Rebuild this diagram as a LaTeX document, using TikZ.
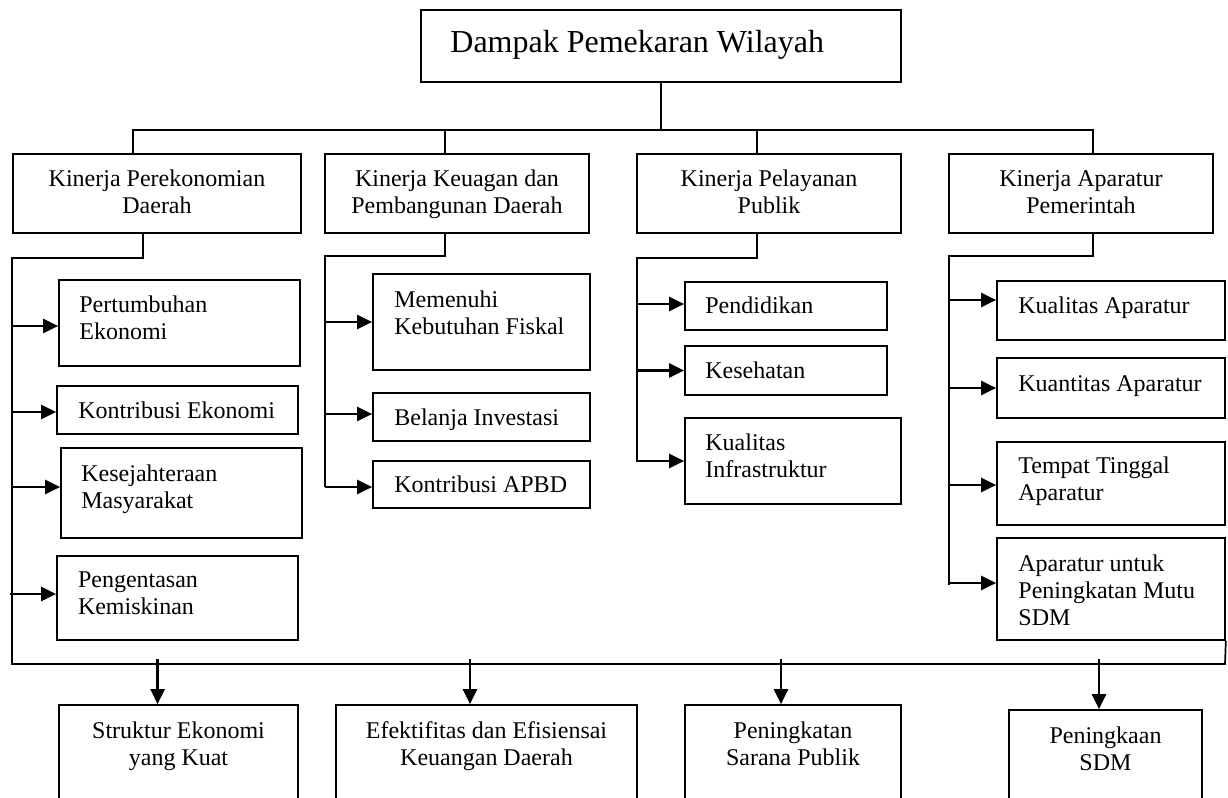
\documentclass[tikz,border=0pt]{standalone}
\usepackage{fontspec}
\setmainfont{Liberation Serif}
\usetikzlibrary{arrows.meta}
% empty box node from corner (x1,y1) to (x2,y2), pixel units
\newcommand\bx[5]{%
 \pgfmathsetmacro\bxw{(#4-#2)*0.5}%
 \pgfmathsetmacro\bxh{(#5-#3)*0.5}%
 \node[boxs, minimum width=\bxw pt, minimum height=\bxh pt] (#1) at ({(#2+#4)/2},{(#3+#5)/2}) {};}
% text whose first baseline is at y = #3 (strut height 18.9 px)
\newcommand\tl[4]{\node[txt, align=left, anchor=north west] (#1) at (#2,{#3-18.9}) {\strut #4};}
\newcommand\tc[4]{\node[txt, align=center, anchor=north] (#1) at (#2,{#3-18.9}) {\strut #4};}
\tikzset{
 boxs/.style={draw, line width=0.85pt, inner sep=0pt},
 txt/.style={inner sep=0pt, font=\fontsize{12}{13.5}\selectfont},
 ttl/.style={inner sep=0pt, anchor=base west, font=\fontsize{16}{18.4}\selectfont},
 ln/.style={line width=0.85pt},
 arr/.style={line width=1.2pt, -{Triangle[length=7.5pt,width=7pt]}}
}
\begin{document}
\begin{tikzpicture}[x=0.5pt,y=-0.5pt]
\useasboundingbox (0,0) rectangle (1228,798);
\clip (0,0) rectangle (1228,798);
% title
\bx{top}{421}{10}{901}{82}
\node[ttl] (topt) at (450,52) {Dampak Pemekaran Wilayah};
% level 1
\bx{k1}{13}{154}{301}{233}
\bx{k2}{325}{154}{589}{233}
\bx{k3}{637}{154}{901}{233}
\bx{k4}{949}{154}{1213}{233}
\tc{k1t}{157}{186.5}{Kinerja Perekonomian\\Daerah}
\tc{k2t}{457}{186.5}{Kinerja Keuagan dan\\Pembangunan Daerah}
\tc{k3t}{769}{186.5}{Kinerja Pelayanan\\Publik}
\tc{k4t}{1081}{186.5}{Kinerja Aparatur\\Pemerintah}
% column 1
\bx{p1}{59}{280}{300}{366}
\bx{p2}{57}{386}{298}{434}
\bx{p3}{61}{448}{302}{538}
\bx{p4}{57}{556}{298}{640}
\tl{p1t}{79}{312}{Pertumbuhan\\Ekonomi}
\tl{p2t}{78}{418}{Kontribusi Ekonomi}
\tl{p3t}{81}{481}{Kesejahteraan\\Masyarakat}
\tl{p4t}{77.6}{587}{Pengentasan\\Kemiskinan}
% column 2
\bx{q1}{373}{274}{590}{370}
\bx{q2}{373}{393}{590}{441}
\bx{q3}{373}{461}{590}{508}
\tl{q1t}{394}{307}{Memenuhi\\Kebutuhan Fiskal}
\tl{q2t}{394}{425}{Belanja Investasi}
\tl{q3t}{394}{492}{Kontribusi APBD}
% column 3
\bx{r1}{685}{282}{887}{330}
\bx{r2}{685}{346}{887}{395}
\bx{r3}{685}{418}{901}{504}
\tl{r1t}{705}{313}{Pendidikan}
\tl{r2t}{705}{378}{Kesehatan}
\tl{r3t}{705}{450}{Kualitas\\Infrastruktur}
% column 4
\bx{s1}{997}{281}{1225}{340}
\bx{s2}{997}{358}{1225}{418}
\bx{s3}{997}{442}{1225}{525}
\bx{s4}{997}{538}{1225}{640}
\tl{s1t}{1018}{313}{Kualitas Aparatur}
\tl{s2t}{1018}{391.5}{Kuantitas Aparatur}
\tl{s3t}{1018}{473}{Tempat Tinggal\\Aparatur}
\tl{s4t}{1018}{571}{Aparatur untuk\\Peningkatan Mutu\\SDM}
% bottom boxes (cut by the page edge)
\bx{b1}{59}{705}{298}{900}
\bx{b2}{336}{705}{637}{900}
\bx{b3}{685}{705}{901}{900}
\bx{b4}{1009}{710}{1202}{900}
\tc{b1t}{178.5}{738}{Struktur Ekonomi\\yang Kuat}
\tc{b2t}{486.5}{738}{Efektifitas dan Efisiensai\\Keuangan Daerah}
\tc{b3t}{793}{738}{Peningkatan\\Sarana Publik}
\tc{b4t}{1105.5}{743}{Peningkaan\\SDM}
% top tree
\coordinate (j0) at (661,130);
\coordinate (ja) at (133,130);
\coordinate (jb) at (445,130);
\coordinate (jc) at (757,130);
\coordinate (jd) at (1093,130);
\draw[ln] (top.south) -- (top.south |- j0);
\draw[ln] (k1.north -| ja) -- (ja) -- (jd) -- (k4.north -| jd);
\draw[ln] (jb) -- (k2.north -| jb);
\draw[ln] (jc) -- (k3.north -| jc);
% column trunks
\coordinate (c1a) at (143,258);
\coordinate (c1b) at (12,258);
\coordinate (bl) at (12,664);
\coordinate (br) at (1225,664);
\draw[ln] (k1.south -| c1a) -- (c1a) -- (c1b) -- (bl) -- (br) -- (s4.south east);
\coordinate (c2a) at (445,256);
\coordinate (c2b) at (325,256);
\coordinate (c2e) at (325,487);
\draw[ln] (k2.south -| c2a) -- (c2a) -- (c2b) -- (c2e);
\coordinate (c3a) at (757,258);
\coordinate (c3b) at (637,258);
\coordinate (c3e) at (637,462);
\draw[ln] (k3.south -| c3a) -- (c3a) -- (c3b) -- (c3e);
\coordinate (c4a) at (1093,256);
\coordinate (c4b) at (949,256);
\coordinate (c4e) at (949,585);
\draw[ln] (k4.south -| c4a) -- (c4a) -- (c4b) -- (c4e);
% side arrows
\draw[arr] ([yshift=-1.5pt]p1.west -| c1b) -- ([yshift=-1.5pt]p1.west);
\draw[arr] ([yshift=-1pt]p2.west -| c1b) -- ([yshift=-1pt]p2.west);
\draw[arr] ([yshift=3pt]p3.west -| c1b) -- ([yshift=3pt]p3.west);
\draw[arr] ([yshift=2pt,xshift=-1pt]p4.west -| c1b) -- ([yshift=2pt]p4.west);
\draw[arr] (q1.west -| c2b) -- (q1.west);
\draw[arr] ([yshift=1.5pt]q2.west -| c2b) -- ([yshift=1.5pt]q2.west);
\draw[arr] ([yshift=-1.25pt]q3.west -| c2b) -- ([yshift=-1.25pt]q3.west);
\draw[arr] ([yshift=1pt]r1.west -| c3b) -- ([yshift=1pt]r1.west);
\draw[arr] (r2.west -| c3b) -- (r2.west);
\draw[arr] (r3.west -| c3b) -- (r3.west);
\draw[arr] ([yshift=5.25pt]s1.west -| c4b) -- ([yshift=5.25pt]s1.west);
\draw[arr] (s2.west -| c4b) -- (s2.west);
\draw[arr] ([yshift=-0.75pt]s3.west -| c4b) -- ([yshift=-0.75pt]s3.west);
\draw[arr] ([yshift=3pt]s4.west -| c4b) -- ([yshift=3pt]s4.west);
% bottom arrows
\coordinate (ar1) at (157.6,659);
\coordinate (ar2) at (470,659);
\coordinate (ar3) at (781,659);
\coordinate (ar4) at (1099,659);
\draw[arr] (ar1) -- (ar1 |- b1.north);
\draw[arr] (ar2) -- (ar2 |- b2.north);
\draw[arr] (ar3) -- (ar3 |- b3.north);
\draw[arr] (ar4) -- (ar4 |- b4.north);
\end{tikzpicture}
\end{document}
